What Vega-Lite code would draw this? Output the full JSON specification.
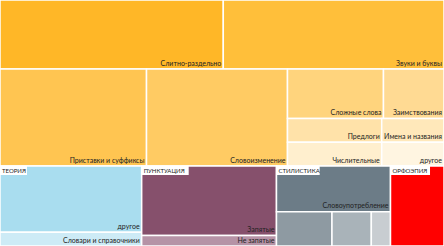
{
  "$schema": "https://vega.github.io/schema/vega-lite/v6.json",
  "width": 444,
  "height": 246,
  "padding": 0,
  "autosize": {"type": "none"},
  "config": {"view": {"stroke": null}},
  "datasets": {
    "tiles": [
      {"id": 1, "group": "Орфография", "name": "Слитно-раздельно", "x0": 0, "x1": 50.29, "y0": 0, "y1": 28.05},
      {"id": 2, "group": "Орфография", "name": "Звуки и буквы", "x0": 50.29, "x1": 100, "y0": 0, "y1": 28.05},
      {"id": 3, "group": "Орфография", "name": "Приставки и суффиксы", "x0": 0, "x1": 33.0, "y0": 28.05, "y1": 67.48},
      {"id": 4, "group": "Орфография", "name": "Словоизменение", "x0": 33.0, "x1": 64.75, "y0": 28.05, "y1": 67.48},
      {"id": 5, "group": "Орфография", "name": "Сложные слова", "x0": 64.75, "x1": 86.37, "y0": 28.05, "y1": 48.17},
      {"id": 6, "group": "Орфография", "name": "Заимствования", "x0": 86.37, "x1": 100, "y0": 28.05, "y1": 48.17},
      {"id": 7, "group": "Орфография", "name": "Предлоги", "x0": 64.75, "x1": 85.97, "y0": 48.17, "y1": 57.85},
      {"id": 8, "group": "Орфография", "name": "Имена и названия", "x0": 85.97, "x1": 100, "y0": 48.17, "y1": 57.85},
      {"id": 9, "group": "Орфография", "name": "Числительные", "x0": 64.75, "x1": 85.97, "y0": 57.85, "y1": 67.48},
      {"id": 10, "group": "Орфография", "name": "другое", "x0": 85.97, "x1": 100, "y0": 57.85, "y1": 67.48},
      {"id": 11, "group": "Теория", "name": "другое", "x0": 0, "x1": 31.91, "y0": 67.48, "y1": 94.43},
      {"id": 12, "group": "Теория", "name": "Словари и справочники", "x0": 0, "x1": 31.91, "y0": 94.43, "y1": 100},
      {"id": 13, "group": "Пунктуация", "name": "Запятые", "x0": 31.91, "x1": 62.27, "y0": 67.48, "y1": 95.73},
      {"id": 14, "group": "Пунктуация", "name": "Не запятые", "x0": 31.91, "x1": 62.27, "y0": 95.73, "y1": 100},
      {"id": 15, "group": "Стилистика", "name": "Словоупотребление", "x0": 62.27, "x1": 87.95, "y0": 67.48, "y1": 86.06},
      {"id": 16, "group": "Стилистика", "name": null, "x0": 62.27, "x1": 74.77, "y0": 86.06, "y1": 100},
      {"id": 17, "group": "Стилистика", "name": null, "x0": 74.77, "x1": 83.63, "y0": 86.06, "y1": 100},
      {"id": 18, "group": "Стилистика", "name": null, "x0": 83.63, "x1": 87.95, "y0": 86.06, "y1": 100},
      {"id": 19, "group": "Орфоэпия", "name": null, "x0": 87.95, "x1": 100, "y0": 67.48, "y1": 100}
    ],
    "headers": [
      {"label": "ТЕОРИЯ", "x0": 0, "hx": 6.08, "y0": 67.48, "hy": 71.14},
      {"label": "ПУНКТУАЦИЯ", "x0": 31.91, "hx": 42.5, "y0": 67.48, "hy": 71.14},
      {"label": "СТИЛИСТИКА", "x0": 62.27, "hx": 72.0, "y0": 67.48, "hy": 71.14},
      {"label": "ОРФОЭПИЯ", "x0": 87.95, "hx": 96.85, "y0": 67.48, "hy": 71.14}
    ]
  },
  "layer": [
    {
      "data": {"name": "tiles"},
      "mark": {"type": "rect", "stroke": "#ffffff", "strokeWidth": 1.5},
      "encoding": {
        "x": {"field": "x0", "type": "quantitative", "scale": {"domain": [0, 100], "nice": false, "zero": false}, "axis": null},
        "x2": {"field": "x1"},
        "y": {"field": "y0", "type": "quantitative", "scale": {"domain": [0, 100], "nice": false, "zero": false, "reverse": true}, "axis": null},
        "y2": {"field": "y1"},
        "color": {
          "field": "id", "type": "nominal", "legend": null,
          "scale": {
            "domain": [1, 2, 3, 4, 5, 6, 7, 8, 9, 10, 11, 12, 13, 14, 15, 16, 17, 18, 19],
            "range": ["#FFB727", "#FFBF3A", "#FFC551", "#FFCB63", "#FFD47D", "#FFDA93", "#FFE2A9", "#FFE8BA", "#FFEFCE", "#FFF5E1", "#A9DDEF", "#CDEBF6", "#86506C", "#B693A6", "#6C7C87", "#8E9AA2", "#A9B3B9", "#C8CDD1", "#FF0000"]
          }
        }
      }
    },
    {
      "data": {"name": "tiles"},
      "transform": [{"filter": "datum.name != null"}],
      "mark": {"type": "text", "align": "right", "baseline": "alphabetic", "dx": -2, "dy": -3.5, "font": "Lato", "fontSize": 7, "color": "#222222"},
      "encoding": {
        "x": {"field": "x1", "type": "quantitative"},
        "y": {"field": "y1", "type": "quantitative"},
        "text": {"field": "name"}
      }
    },
    {
      "data": {"name": "headers"},
      "mark": {"type": "rect", "color": "#ffffff"},
      "encoding": {
        "x": {"field": "x0", "type": "quantitative"},
        "x2": {"field": "hx"},
        "y": {"field": "y0", "type": "quantitative"},
        "y2": {"field": "hy"}
      }
    },
    {
      "data": {"name": "headers"},
      "mark": {"type": "text", "align": "left", "baseline": "top", "dx": 2, "dy": 2, "font": "Lato", "fontSize": 6, "color": "#222222"},
      "encoding": {
        "x": {"field": "x0", "type": "quantitative"},
        "y": {"field": "y0", "type": "quantitative"},
        "text": {"field": "label"}
      }
    }
  ]
}
